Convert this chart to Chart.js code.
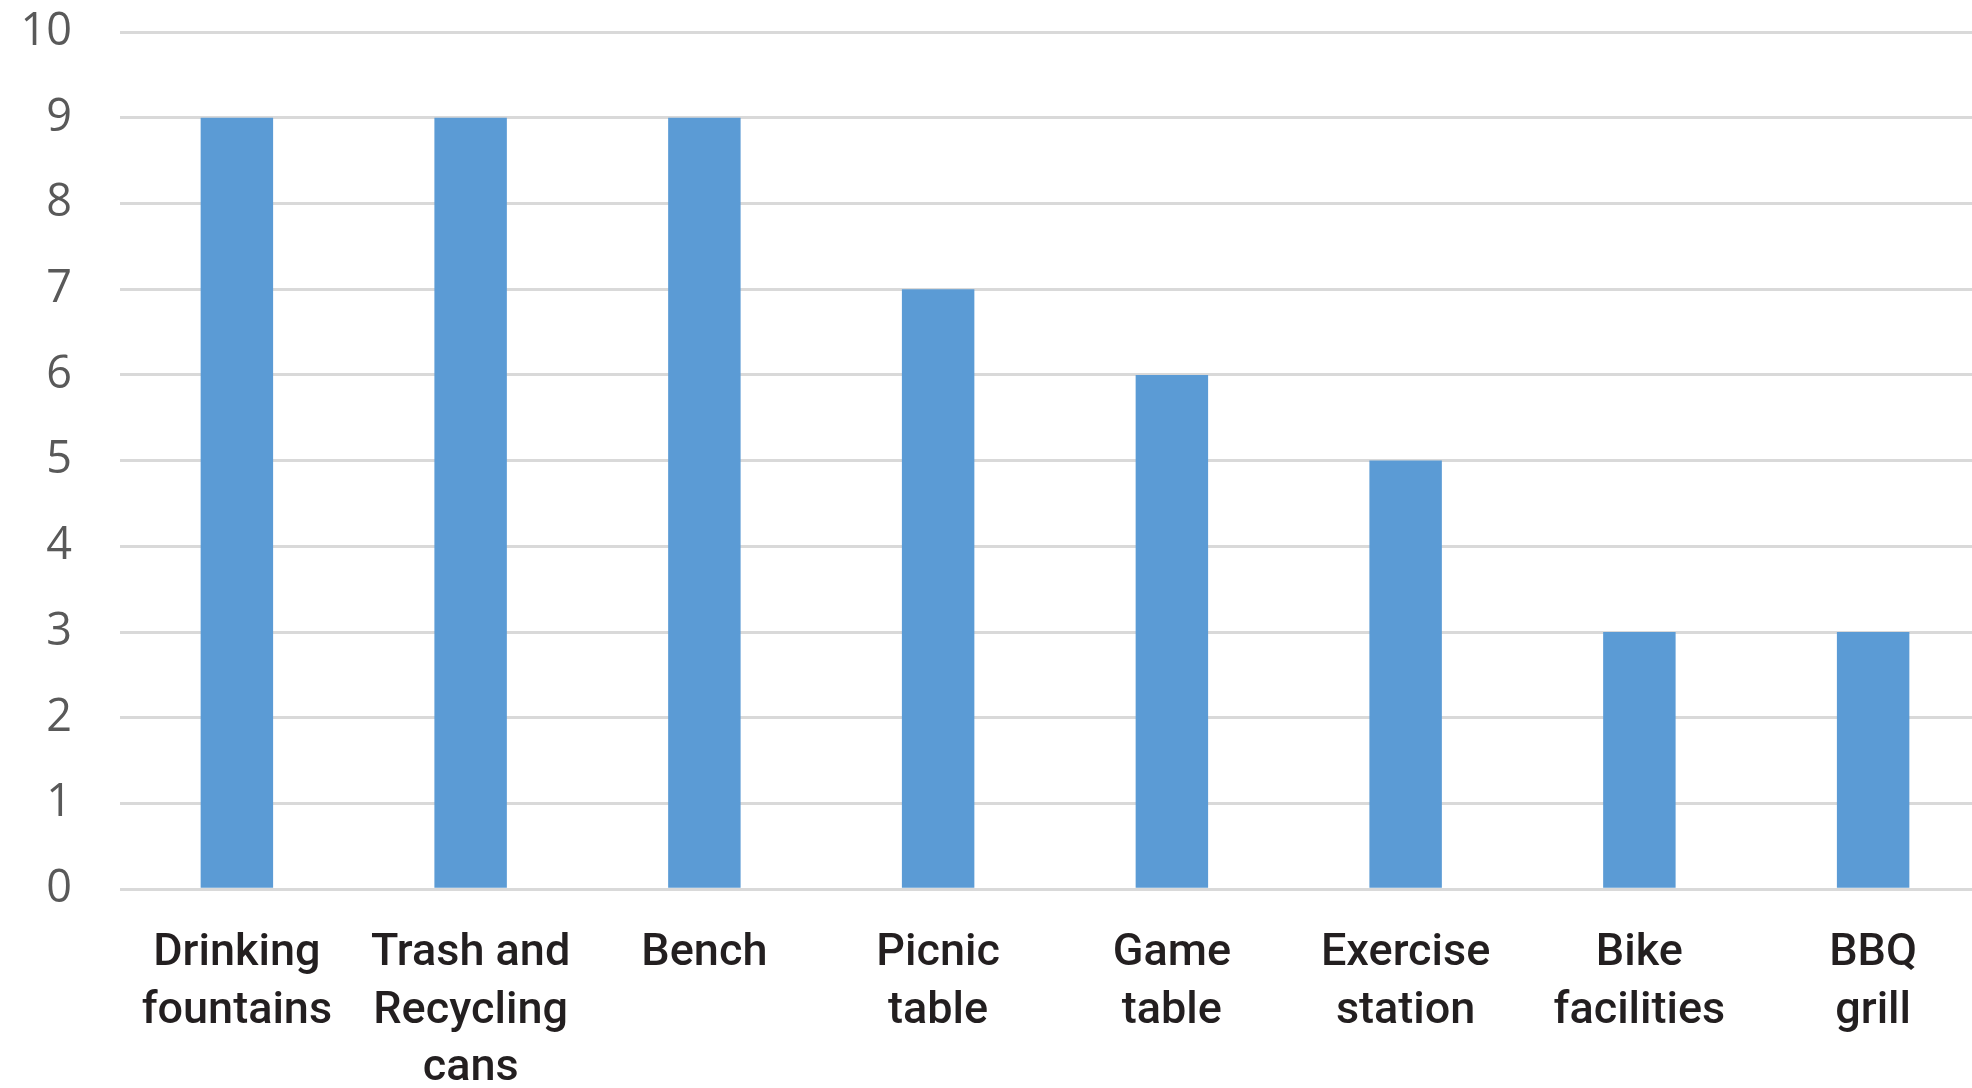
<!DOCTYPE html>
<html>
<head>
<meta charset="utf-8">
<script src="https://cdn.jsdelivr.net/npm/chart.js@4"></script>
<style>
  html, body { margin: 0; padding: 0; background: #fff; overflow: hidden; }
  #wrap { width: 1990px; height: 1088px; }
</style>
</head>
<body>
<div id="wrap"><canvas id="myChart" width="1990" height="1088"></canvas></div>
<script>
const categories = [
  ['Drinking', 'fountains'],
  ['Trash and', 'Recycling', 'cans'],
  'Bench',
  ['Picnic', 'table'],
  ['Game', 'table'],
  ['Exercise', 'station'],
  ['Bike', 'facilities'],
  ['BBQ', 'grill']
];
const counts = [9, 9, 9, 7, 6, 5, 3, 3];
const yTicks = [0, 1, 2, 3, 4, 5, 6, 7, 8, 9, 10];

const data = {
  labels: categories,
  datasets: [{
    data: counts,
    backgroundColor: '#5b9bd5',
    borderWidth: 0,
    barPercentage: 0.31,
    categoryPercentage: 1.0,
  }]
};

const config = {
  type: 'bar',
  data: data,
  options: {
    responsive: false,
    animation: false,
    layout: { padding: { top: 32, right: 0, bottom: -46, left: 0 } },
    plugins: {
      legend: { display: false },
      tooltip: { enabled: false }
    },
    scales: {
      y: {
        min: yTicks[0],
        max: yTicks[yTicks.length - 1],
        afterBuildTicks: (scale) => { scale.ticks = yTicks.map(v => ({ value: v })); },
        afterFit: (scale) => {
          scale.width = 120;
          scale.paddingTop = 0;
          scale.paddingBottom = 0;
        },
        border: { display: false },
        grid: { color: '#d9d9d9', lineWidth: 3, drawTicks: false },
        ticks: {
          color: '#595959',
          padding: 48,
          font: { family: 'Open Sans, sans-serif', size: 45 }
        }
      },
      x: {
        border: { display: false },
        grid: { display: false, drawTicks: false },
        ticks: {
          color: '#231f20',
          padding: 36,
          maxRotation: 0,
          autoSkip: false,
          font: { family: 'Roboto, sans-serif', size: 45, weight: '500', lineHeight: 1.28 }
        }
      }
    }
  }
};

const myChart = new Chart(document.getElementById('myChart'), config);
</script>
</body>
</html>
